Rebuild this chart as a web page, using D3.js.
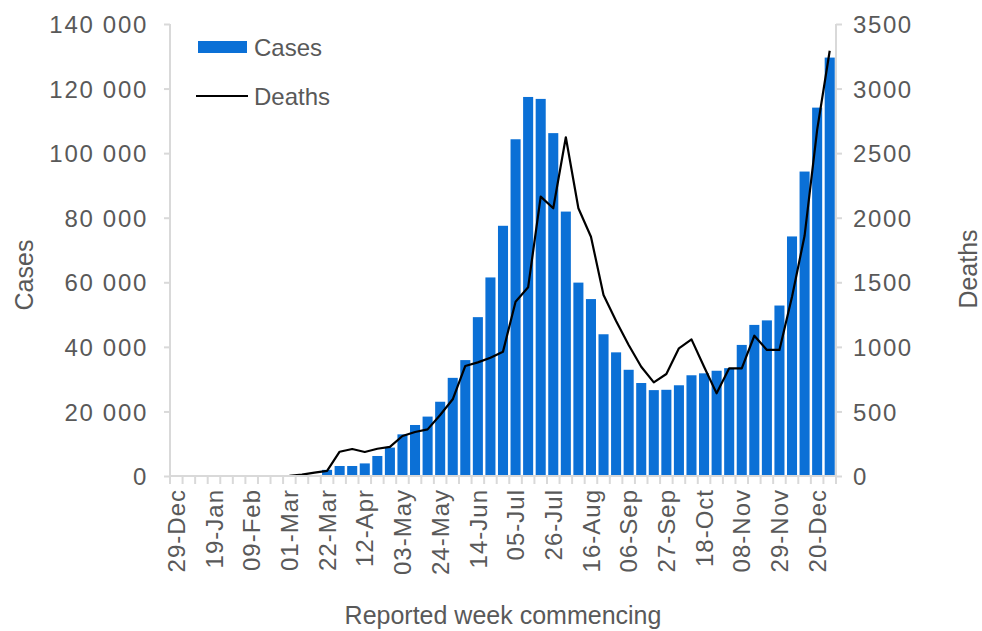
<!DOCTYPE html>
<html>
<head>
<meta charset="utf-8">
<script src="https://cdn.jsdelivr.net/npm/d3@7"></script>
<style>
  body { margin: 0; background: #fff; }
  text { font-family: "Liberation Sans", Arial, sans-serif; fill: #595959; }
</style>
</head>
<body>
<div id="chart"></div>
<script>
var width = 982
var height = 631
var margin = {top: 24, right: 146, bottom: 155, left: 170}

// weeks commencing 29-Dec-2019 .. 27-Dec-2020
var weeks = ["29-Dec", "05-Jan", "12-Jan", "19-Jan", "26-Jan", "02-Feb", "09-Feb", "16-Feb", "23-Feb",
  "01-Mar", "08-Mar", "15-Mar", "22-Mar", "29-Mar", "05-Apr", "12-Apr", "19-Apr", "26-Apr",
  "03-May", "10-May", "17-May", "24-May", "31-May", "07-Jun", "14-Jun", "21-Jun", "28-Jun",
  "05-Jul", "12-Jul", "19-Jul", "26-Jul", "02-Aug", "09-Aug", "16-Aug", "23-Aug", "30-Aug",
  "06-Sep", "13-Sep", "20-Sep", "27-Sep", "04-Oct", "11-Oct", "18-Oct", "25-Oct",
  "01-Nov", "08-Nov", "15-Nov", "22-Nov", "29-Nov", "06-Dec", "13-Dec", "20-Dec", "27-Dec"]

var cases = [0, 0, 0, 0, 0, 0, 0, 0, 0,
  0, 0, 100, 1900, 3100, 3100, 3900, 6200, 8800,
  12900, 15800, 18400, 23000, 30400, 35900, 49200, 61500, 77500,
  104300, 117400, 116800, 106200, 81900, 59900, 54800, 43900, 38300,
  32900, 28800, 26600, 26700, 28100, 31200, 31800, 32600,
  33400, 40600, 46800, 48200, 52800, 74200, 94300, 114100, 129600]

var deaths = [0, 0, 0, 0, 0, 0, 0, 0, 0,
  2, 10, 26, 40, 188, 209, 186, 211, 225,
  310, 341, 361, 472, 594, 852, 880, 916, 963,
  1350, 1461, 2163, 2073, 2623, 2073, 1853, 1401, 1200,
  1014, 846, 725, 790, 989, 1058, 846, 640,
  834, 834, 1086, 976, 976, 1388, 1860, 2680, 3293]

var xLabels = weeks.filter(function(d, i) { return i % 3 === 0 })

var innerW = width - margin.left - margin.right
var innerH = height - margin.top - margin.bottom

var svg = d3.select("#chart")
    .append("svg")
    .attr("width", width)
    .attr("height", height)

var g = svg.append("g")
    .attr("transform", "translate(" + margin.left + "," + margin.top + ")")

var x = d3.scaleBand()
    .domain(weeks)
    .range([0, innerW])
    .paddingInner(0.2)
    .paddingOuter(0.1)

var yCases = d3.scaleLinear().domain([0, 140000]).range([innerH, 0])
var yDeaths = d3.scaleLinear().domain([0, 3500]).range([innerH, 0])

var spaceFmt = function(d) { return d3.format(",")(d).replace(/,/g, " ") }
var axisGrey = "#d9d9d9"

// bars
g.selectAll("rect.bar")
    .data(weeks)
    .enter()
    .append("rect")
    .attr("class", "bar")
    .attr("x", function(d) { return x(d) })
    .attr("width", x.bandwidth())
    .attr("y", function(d, i) { return yCases(cases[i]) })
    .attr("height", function(d, i) { return innerH - yCases(cases[i]) })
    .attr("fill", "#0b70d6")

// deaths line
var line = d3.line()
    .x(function(d, i) { return x(weeks[i]) + x.bandwidth() / 2 })
    .y(function(d) { return yDeaths(d) })

g.append("path")
    .datum(deaths)
    .attr("d", line)
    .attr("fill", "none")
    .attr("stroke", "#000")
    .attr("stroke-width", 2.2)
    .attr("stroke-linejoin", "round")

// left axis
var left = g.append("g")
    .call(d3.axisLeft(yCases).tickValues(d3.range(0, 140001, 20000)).tickSize(6).tickPadding(16).tickFormat(spaceFmt))
left.selectAll("path, line").attr("stroke", axisGrey).attr("stroke-width", 2)
left.select(".domain").attr("d", "M0," + innerH + "V0")
left.selectAll("text").style("font-size", "24px").style("letter-spacing", "1.7px").attr("fill", "#595959").attr("dy", "0.36em")

// right axis
var right = g.append("g")
    .attr("transform", "translate(" + innerW + ",0)")
    .call(d3.axisRight(yDeaths).tickValues(d3.range(0, 3501, 500)).tickSize(6).tickPadding(11).tickFormat(d3.format("d")))
right.selectAll("path, line").attr("stroke", axisGrey).attr("stroke-width", 2)
right.select(".domain").attr("d", "M0," + innerH + "V0")
right.selectAll("text").style("font-size", "24px").style("letter-spacing", "1.6px").attr("fill", "#595959").attr("dy", "0.36em")

// bottom axis
var step = x.step()
var bottom = g.append("g").attr("transform", "translate(0," + innerH + ")")
bottom.append("line")
    .attr("x1", 0).attr("x2", innerW)
    .attr("stroke", axisGrey).attr("stroke-width", 2)
bottom.selectAll("line.tick")
    .data(d3.range(weeks.length + 1))
    .enter()
    .append("line")
    .attr("class", "tick")
    .attr("x1", function(i) { return i === weeks.length ? innerW : x(weeks[i]) - step * x.paddingInner() / 2 })
    .attr("x2", function(i) { return i === weeks.length ? innerW : x(weeks[i]) - step * x.paddingInner() / 2 })
    .attr("y1", 0).attr("y2", 8)
    .attr("stroke", axisGrey).attr("stroke-width", 2)

bottom.selectAll("text.xl")
    .data(xLabels)
    .enter()
    .append("text")
    .attr("class", "xl")
    .attr("transform", function(d) {
      return "translate(" + (x(d) + x.bandwidth() / 2) + ",13) rotate(-90)"
    })
    .attr("text-anchor", "end")
    .attr("dy", "0.36em")
    .style("font-size", "24px")
    .style("letter-spacing", "1px")
    .text(function(d) { return d })

// axis titles
svg.append("text")
    .attr("x", margin.left + innerW / 2)
    .attr("y", 624)
    .attr("text-anchor", "middle")
    .style("font-size", "25px")
    .text("Reported week commencing")

svg.append("text")
    .attr("transform", "translate(33,275) rotate(-90)")
    .attr("text-anchor", "middle")
    .style("font-size", "25px")
    .text("Cases")

svg.append("text")
    .attr("transform", "translate(977,269) rotate(-90)")
    .attr("text-anchor", "middle")
    .style("font-size", "25px")
    .text("Deaths")

// legend
var legend = svg.append("g").attr("transform", "translate(198,47)")
legend.append("rect")
    .attr("x", 0).attr("y", -6).attr("width", 49).attr("height", 12)
    .attr("fill", "#0b70d6")
legend.append("text")
    .attr("x", 56).attr("y", 0).attr("dy", "0.36em")
    .style("font-size", "24px")
    .text("Cases")
legend.append("line")
    .attr("x1", -2).attr("x2", 50).attr("y1", 49).attr("y2", 49)
    .attr("stroke", "#000").attr("stroke-width", 2)
legend.append("text")
    .attr("x", 56).attr("y", 49).attr("dy", "0.36em")
    .style("font-size", "24px")
    .text("Deaths")
</script>
</body>
</html>
